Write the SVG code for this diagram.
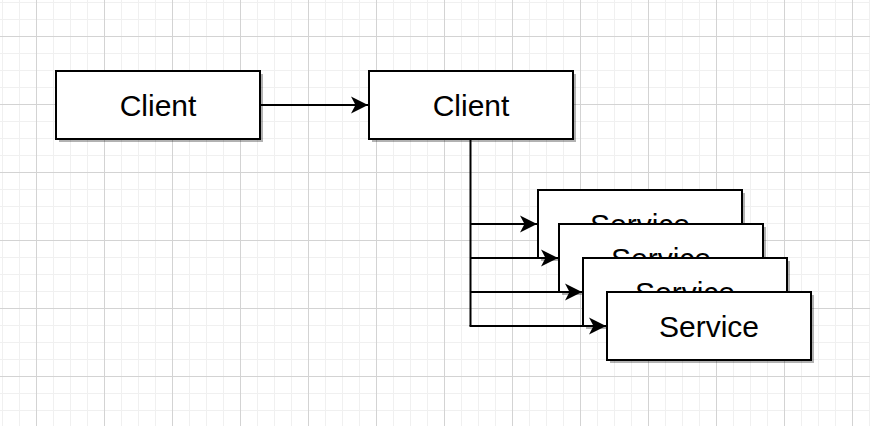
<svg xmlns="http://www.w3.org/2000/svg" width="870" height="426" viewBox="0 0 870 426">
<defs>
<pattern id="minor" patternUnits="userSpaceOnUse" x="2" y="2" width="17" height="17">
<path d="M0.5 0V17M0 0.5H17" stroke="#f0f0f0" stroke-width="1" fill="none"/>
</pattern>
<pattern id="major" patternUnits="userSpaceOnUse" x="36" y="36" width="68" height="68">
<path d="M0.5 0V68M0 0.5H68" stroke="#d3d3d3" stroke-width="1" fill="none"/>
</pattern>
<marker id="arr" markerUnits="userSpaceOnUse" viewBox="-18 -9 19 18" refX="0" refY="0" markerWidth="19" markerHeight="18" orient="auto">
<path d="M0 0L-17 -8.5L-12.5 0L-17 8.5Z" fill="#000"/>
</marker>
</defs>
<style>
.box{fill:#fff;stroke:#000;stroke-width:2}
.sh{fill:#000;opacity:0.3}
.lbl{font-family:"Liberation Sans",Arial,sans-serif;font-size:30px;fill:#000;text-anchor:middle}
.edge{fill:none;stroke:#000;stroke-width:2}
</style>
<rect width="870" height="426" fill="#fff"/>
<rect width="870" height="426" fill="url(#minor)"/>
<rect width="870" height="426" fill="url(#major)"/>

<g id="client1">
<rect class="sh" x="59" y="74" width="204" height="68"/>
<rect class="box" x="56" y="71" width="204" height="68"/>
<text class="lbl" x="158" y="115.5">Client</text>
</g>
<g id="client2">
<rect class="sh" x="372" y="74" width="204" height="68"/>
<rect class="box" x="369" y="71" width="204" height="68"/>
<text class="lbl" x="471" y="115.5">Client</text>
</g>
<g id="service1">
<rect class="sh" x="541" y="193" width="204" height="68"/>
<rect class="box" x="538" y="190" width="204" height="68"/>
<text class="lbl" x="640" y="234.5">Service</text>
</g>
<g id="service2">
<rect class="sh" x="562" y="227" width="204" height="68"/>
<rect class="box" x="559" y="224" width="204" height="68"/>
<text class="lbl" x="661" y="268.5">Service</text>
</g>
<g id="service3">
<rect class="sh" x="586" y="261" width="204" height="68"/>
<rect class="box" x="583" y="258" width="204" height="68"/>
<text class="lbl" x="685" y="302.5">Service</text>
</g>
<g id="service4">
<rect class="sh" x="610" y="295" width="204" height="68"/>
<rect class="box" x="607" y="292" width="204" height="68"/>
<text class="lbl" x="709" y="336.5">Service</text>
</g>

<g id="connectors">
<path class="edge" d="M260 105H368" marker-end="url(#arr)"/>
<path class="edge" d="M470.5 139V326"/>
<path class="edge" d="M470.5 224H537" marker-end="url(#arr)"/>
<path class="edge" d="M470.5 258H558" marker-end="url(#arr)"/>
<path class="edge" d="M470.5 292H582" marker-end="url(#arr)"/>
<path class="edge" d="M469.5 326H606" marker-end="url(#arr)"/>
</g>
</svg>
